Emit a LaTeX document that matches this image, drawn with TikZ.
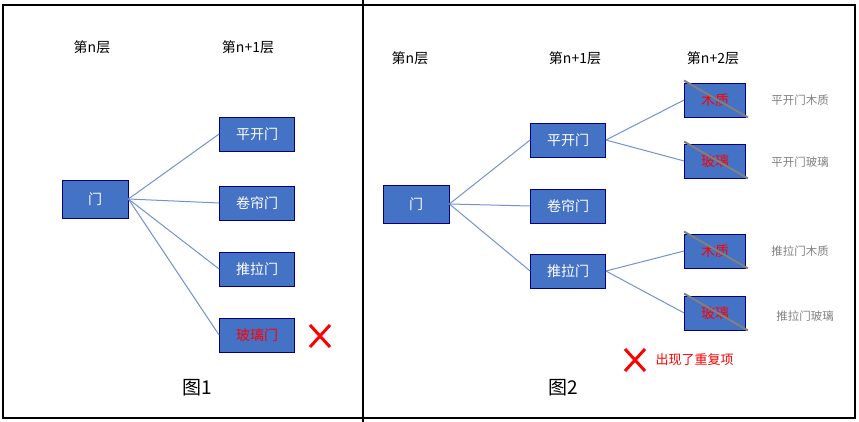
\documentclass[tikz,border=0pt]{standalone}
\usepackage{fontspec}
\setmainfont{Noto Sans CJK SC}
\usetikzlibrary{calc}
\begin{document}
\begin{tikzpicture}[x=1pt,y=-1pt,
 bx/.style={draw=blue!50!black,line width=0.8pt,fill={rgb,255:red,68;green,114;blue,196},text=white,font=\fontsize{14pt}{16pt}\selectfont,inner sep=0pt},
 big/.style={bx,minimum width=66pt,minimum height=38pt},
 mid/.style={bx,minimum width=75pt,minimum height=34pt},
 sm/.style={bx,minimum width=61pt,minimum height=34pt,text=red},
 hd/.style={font=\fontsize{14pt}{16pt}\selectfont},
 gl/.style={text=gray,font=\fontsize{11.5pt}{13pt}\selectfont},
 ln/.style={draw={rgb,255:red,114;green,147;blue,206},line width=1pt},
 xm/.style={red,line width=3pt}]
\useasboundingbox (0,0) rectangle (859,422);
\draw[line width=1.2pt] (3,5) rectangle (855,418);
\draw[line width=1.5pt] (363,0) -- (363,422);
% left
\node[hd] (h1) at (92,47) {第n层};
\node[hd] (h2) at (248,47) {第n+1层};
\node[big] (m) at (95,199) {门};
\node[mid] (a) at (257,134) {平开门};
\node[mid] (b) at (257,203) {卷帘门};
\node[mid] (c) at (257,269) {推拉门};
\node[mid,text=red] (d) at (257,335) {玻璃门};
\foreach \t in {a,b,c,d} \draw[ln] (m.east) -- (\t.west);
\coordinate (x1) at (320,336);
\draw[xm] ($(x1)+(-10,-11)$) -- ($(x1)+(10,11)$) ($(x1)+(-10,11)$) -- ($(x1)+(10,-11)$);
\node[font=\fontsize{19pt}{21pt}\selectfont] (f1) at (197,388) {图1};
% right
\node[hd] (r1) at (410,58) {第n层};
\node[hd] (r2) at (575,58) {第n+1层};
\node[hd] (r3) at (713,58) {第n+2层};
\node[big] (M) at (416,204) {门};
\node[mid] (A) at (568,140) {平开门};
\node[mid] (B) at (568,206) {卷帘门};
\node[mid] (C) at (568,271) {推拉门};
\foreach \t in {A,B,C} \draw[ln] (M.east) -- (\t.west);
\node[sm] (A1) at (715,100) {木质};
\node[sm] (A2) at (715,161) {玻璃};
\node[sm] (C1) at (715,251) {木质};
\node[sm] (C2) at (715,313) {玻璃};
\draw[ln] (A.east) -- (A1.west); \draw[ln] (A.east) -- (A2.west);
\draw[ln] (C.east) -- (C1.west); \draw[ln] (C.east) -- (C2.west);
\foreach \t in {A1,A2,C1,C2} \draw[gray,line width=2pt] ($(\t.north west)+(0,-2)$) -- ($(\t.south east)+(2,0)$);
\node[gl] (g1) at (800,100) {平开门木质};
\node[gl] (g2) at (800,162) {平开门玻璃};
\node[gl] (g3) at (800,251) {推拉门木质};
\node[gl] (g4) at (805,316) {推拉门玻璃};
\coordinate (x2) at (635,360);
\draw[xm] ($(x2)+(-10,-11)$) -- ($(x2)+(10,11)$) ($(x2)+(-10,11)$) -- ($(x2)+(10,-11)$);
\node[text=red,font=\fontsize{13pt}{15pt}\selectfont,anchor=west] (t2) at (652,360) {出现了重复项};
\node[font=\fontsize{19pt}{21pt}\selectfont] (f2) at (563,388) {图2};
\end{tikzpicture}
\end{document}
